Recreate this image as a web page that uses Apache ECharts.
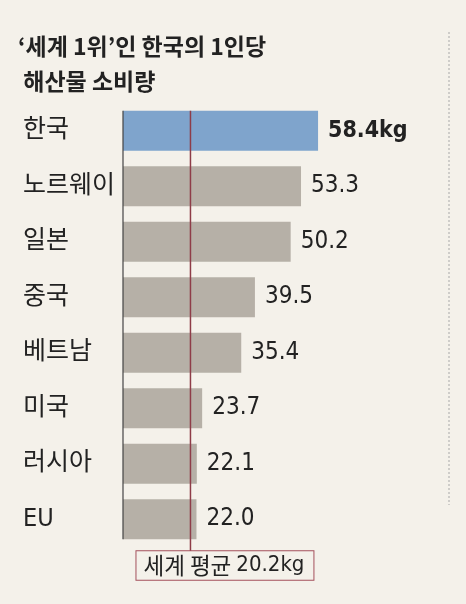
<!DOCTYPE html>
<html><head><meta charset="utf-8">
<script src="https://cdn.jsdelivr.net/npm/echarts@6/dist/echarts.min.js"></script>
<style>html,body{margin:0;padding:0;background:#f4f1ea;}#c{width:466px;height:604px;}</style>
</head><body><div id="c"></div>
<script>
const categories = ['한국', '노르웨이', '일본', '중국', '베트남', '미국', '러시아', 'EU'];
const values = [58.4, 53.3, 50.2, 39.5, 35.4, 23.7, 22.1, 22.0];
const highlight = '한국';
const worldAverage = 20.2;
const titleLines = ['‘세계 1위’인 한국의 1인당', ' 해산물 소비량'];
const unit = 'kg';
const averageLabel = '세계 평균';

const NARROW = "'Liberation Sans Narrow','DejaVu Sans Condensed','Noto Sans CJK KR',sans-serif";
const CJK = "'Noto Sans CJK KR',sans-serif";
const chart = echarts.init(document.getElementById('c'), null, {renderer: 'canvas'});
const gridTop = 103, gridH = 444, gapPct = 0.28;
const option = {
  backgroundColor: '#f4f1ea',
  animation: false,
  title: {
    text: titleLines.join('\n'), left: 18, top: 29, padding: 0,
    textStyle: {fontFamily: CJK, fontWeight: 'bold', fontSize: 23, lineHeight: 35, color: '#222'}
  },
  grid: {left: 123, top: gridTop, height: gridH, width: 200.4},
  xAxis: {type: 'value', min: 0, max: 60, show: false},
  yAxis: {
    type: 'category', data: categories, inverse: true,
    axisLine: {show: false}, axisTick: {show: false},
    axisLabel: {align: 'left', margin: 100, fontFamily: NARROW, fontSize: 25, color: '#222'}
  },
  series: [{
    type: 'bar',
    barCategoryGap: (gapPct * 100) + '%',
    data: values.map((v, i) => ({
      value: v,
      itemStyle: {color: categories[i] === highlight ? '#7fa4cc' : '#b6b0a7'},
      label: categories[i] === highlight ? {fontWeight: 'bold', fontSize: 23} : {}
    })),
    label: {
      show: true, position: 'right', distance: 10,
      fontFamily: NARROW, fontSize: 24, color: '#222',
      formatter: p => p.value.toFixed(1) + (p.name === highlight ? unit : '')
    }
  }]
};
chart.setOption(option);

const x0 = chart.convertToPixel({xAxisIndex: 0}, 0);
const xm = chart.convertToPixel({xAxisIndex: 0}, worldAverage);
const yFirst = chart.convertToPixel({yAxisIndex: 0}, categories[0]);
const yLast = chart.convertToPixel({yAxisIndex: 0}, categories[categories.length - 1]);
const band = gridH / categories.length;
const half = band * (1 - gapPct) / 2;
const boxTop = yLast + half + 12;

chart.setOption({
  graphic: [
    {type: 'line', shape: {x1: x0, y1: yFirst - half, x2: x0, y2: yLast + half},
     style: {stroke: '#444', lineWidth: 1.2}, z: 10},
    {type: 'line', shape: {x1: xm, y1: yFirst - half, x2: xm, y2: boxTop},
     style: {stroke: '#8e3c48', lineWidth: 1.5}, z: 10},
    {type: 'text', x: xm - 54, y: boxTop, z: 10,
     style: {
       text: '{a|' + averageLabel + ' }{b|' + worldAverage.toFixed(1) + unit + '}',
       rich: {a: {fontFamily: CJK, fontSize: 22.5, fill: '#222'}, b: {fontFamily: NARROW, fontSize: 22, fill: '#222'}},
       backgroundColor: '#f4f1ea', borderColor: '#a4505c', borderWidth: 1, padding: [3, 9, 3, 7]
     }},
    {type: 'line', shape: {x1: 449, y1: 32, x2: 449, y2: 505},
     style: {stroke: '#a8a8a8', lineWidth: 1, lineDash: [2, 2]}}
  ]
});
</script></body></html>
